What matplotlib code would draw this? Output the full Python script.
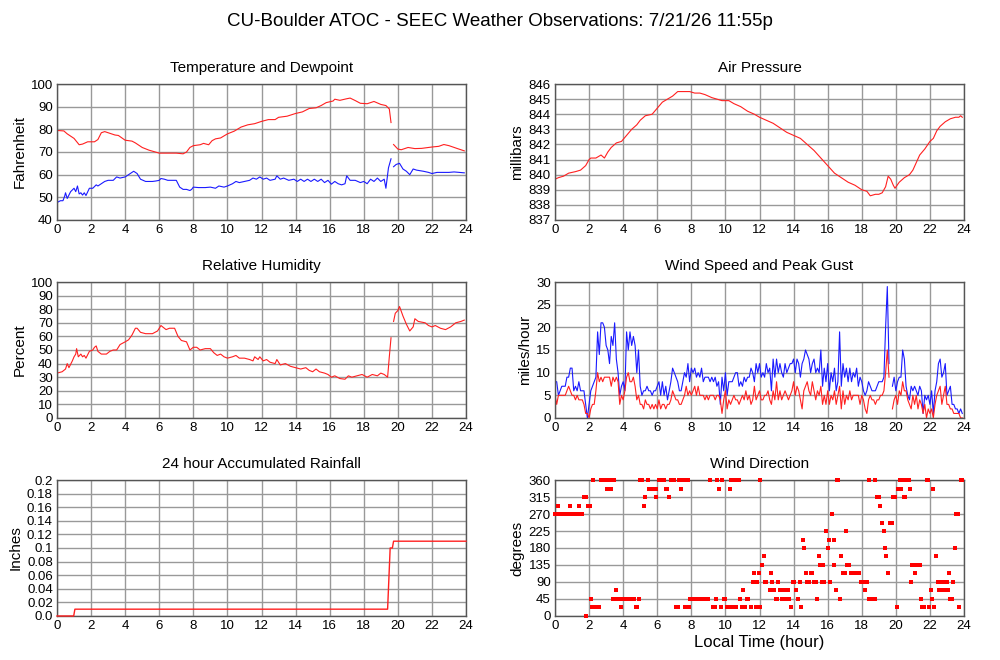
import numpy as np
import matplotlib
matplotlib.use("Agg")
import matplotlib.pyplot as plt

plt.rcParams['font.family'] = ['Liberation Sans', 'DejaVu Sans']

nan = np.nan

# temperature / dewpoint (F)
temp_t = [0, 0.4, 0.6, 1.0, 1.3, 1.5, 1.8, 2.2, 2.4, 2.6, 2.8, 3.0, 3.4, 3.6, 4.0, 4.4, 4.6, 5.0, 5.4,
          6.0, 6.5, 7.0, 7.4, 7.6, 7.8, 8.0, 8.4, 8.6, 8.9, 9.1, 9.3, 9.6, 10.0, 10.4, 10.8, 11.2, 11.6,
          12.0, 12.4, 12.8, 13.0, 13.5, 14.0, 14.4, 14.8, 15.2, 15.5, 15.8, 16.2, 16.3, 16.6, 17.0, 17.2,
          17.5, 17.8, 18.2, 18.6, 19.0, 19.3, 19.5, 19.6, 19.68, 19.75, 20.0, 20.2, 20.6, 21.0, 21.4,
          22.0, 22.4, 22.7, 23.0, 23.5, 23.9]
temp_f = [79.5, 79.3, 78, 76, 73.2, 73.5, 74.5, 74.5, 75.5, 78.5, 79, 78.5, 77.5, 77.3, 75.2, 74.8, 74,
          72, 70.8, 69.5, 69.5, 69.5, 69.2, 70, 72, 72.8, 73.2, 73.8, 73.2, 75, 75.8, 76.2, 78, 79.2, 81,
          82, 82.5, 83.5, 84.3, 84.3, 85.3, 85.8, 87, 87.7, 89.2, 89.5, 90.5, 91.8, 92.5, 93.3, 92.8,
          93.5, 93.8, 92.7, 91.5, 91.3, 92.3, 91, 90.5, 89, 83, nan, 73.3, 71.3, 71, 72, 71.5, 71.6,
          72.2, 72.5, 73.3, 72.8, 71.5, 70.5]

dew_t = [0, 0.2, 0.35, 0.45, 0.5, 0.6, 0.7, 0.8, 1.0, 1.1, 1.2, 1.3, 1.4, 1.5, 1.6, 1.7, 1.9, 2.1, 2.3,
         2.4, 2.6, 2.8, 3.0, 3.3, 3.5, 3.7, 4.0, 4.3, 4.5, 4.7, 4.9, 5.2, 5.6, 5.8, 6.0, 6.1, 6.3, 6.5,
         6.8, 7.0, 7.2, 7.4, 7.6, 7.8, 7.9, 8.0, 8.3, 8.7, 9.0, 9.3, 9.5, 9.8, 10.0, 10.3, 10.5, 10.7,
         11.0, 11.3, 11.5, 11.7, 11.9, 12.1, 12.3, 12.5, 12.8, 12.9, 13.1, 13.3, 13.6, 13.9, 14.1, 14.3,
         14.5, 14.7, 14.9, 15.1, 15.3, 15.5, 15.7, 15.9, 16.1, 16.3, 16.5, 16.7, 16.9, 17.0, 17.2, 17.5,
         17.8, 18.0, 18.2, 18.4, 18.6, 18.8, 19.0, 19.2, 19.3, 19.45, 19.6, 19.68, 19.75, 19.9, 20.1,
         20.3, 20.5, 20.7, 20.9, 21.1, 21.5, 21.8, 22.0, 22.3, 22.6, 23.0, 23.3, 23.6, 23.9]
dew_f = [47.7, 48.5, 48.5, 50.5, 52, 49.5, 51, 52.5, 54, 52.5, 55, 51.5, 52, 51, 52, 50.8, 54, 54, 55.5,
         55, 56, 57, 57.5, 57.5, 59, 58.5, 59, 60.5, 61.5, 60.5, 58, 57, 57, 57.2, 57.5, 58.3, 58, 57.5,
         57.5, 57.5, 54.5, 53.5, 53.5, 53, 53.5, 54.5, 54.3, 54.3, 54.5, 54, 55, 54.5, 55, 56, 57, 56.5,
         57, 57.5, 58.5, 58, 59, 58, 58.5, 57.5, 58, 59.5, 58, 58.5, 57.5, 58, 57, 58,
         57, 58, 57, 58, 57, 58, 56.5, 57.5, 55.8, 57, 56, 55.5, 56, 59.5, 57.5, 57.5,
         56.5, 57, 56, 58, 57, 58.5, 57, 58, 54, 63, 67, nan, 63.5, 64.5, 65,
         62.5, 61.5, 60, 62.5, 62, 61.5, 61, 60.5, 61, 61, 61, 61.2, 61, 60.8]

# air pressure (mb)
pres_t = [0, 0.2, 0.5, 0.8, 1.2, 1.5, 1.8, 2.0, 2.1, 2.4, 2.7, 2.9, 3.1, 3.3, 3.6, 3.9, 4.2, 4.5, 4.8,
          5.0, 5.3, 5.7, 6.0, 6.3, 6.6, 6.9, 7.2, 7.5, 7.9, 8.2, 8.5, 8.8, 9.2, 9.5, 9.8, 10.2, 10.5,
          10.9, 11.3, 11.7, 12.0, 12.4, 12.8, 13.2, 13.6, 14.0, 14.4, 14.8, 15.2, 15.6, 16.0, 16.4,
          16.8, 17.2, 17.6, 18.0, 18.3, 18.5, 18.8, 19.0, 19.2, 19.4, 19.55, 19.7, 19.85, 19.95, 20.2,
          20.5, 20.8, 21.0, 21.2, 21.4, 21.7, 22.0, 22.2, 22.4, 22.6, 22.9, 23.2, 23.5, 23.7, 23.8, 23.9]
pres_mb = [839.7, 839.8, 839.9, 840.1, 840.2, 840.3, 840.6, 841.0, 841.1, 841.1, 841.3, 841.1, 841.5,
           841.8, 842.1, 842.2, 842.6, 843.0, 843.3, 843.6, 843.9, 844.0, 844.4, 844.8, 845.0, 845.2,
           845.5, 845.5, 845.5, 845.4, 845.4, 845.3, 845.1, 845.0, 844.9, 844.9, 844.7, 844.5, 844.2,
           844.0, 843.8, 843.6, 843.4, 843.1, 842.8, 842.6, 842.4, 842.0, 841.6, 841.1, 840.6, 840.1,
           839.8, 839.5, 839.3, 839.0, 838.9, 838.6, 838.7, 838.7, 838.8, 839.2, 839.9, 839.7, 839.3,
           839.1, 839.5, 839.8, 840.0, 840.3, 840.8, 841.3, 841.7, 842.2, 842.4, 842.9, 843.2, 843.5,
           843.7, 843.8, 843.8, 843.9, 843.8]

# relative humidity (%)
rh_t = [0, 0.3, 0.5, 0.6, 0.7, 0.9, 1.0, 1.1, 1.15, 1.25, 1.4, 1.5, 1.6, 1.7, 1.9, 2.1, 2.2, 2.3, 2.4,
        2.6, 2.9, 3.1, 3.3, 3.5, 3.7, 4.0, 4.2, 4.4, 4.6, 4.7, 4.9, 5.2, 5.6, 5.9, 6.1, 6.3, 6.4, 6.6,
        6.9, 7.1, 7.3, 7.6, 7.8, 8.0, 8.2, 8.4, 8.7, 9.0, 9.2, 9.4, 9.6, 9.8, 10.0, 10.3, 10.5, 10.7,
        11.0, 11.3, 11.5, 11.6, 11.8, 11.9, 12.1, 12.3, 12.5, 12.8, 12.9, 13.1, 13.4, 13.7, 14.0, 14.3,
        14.6, 14.8, 15.0, 15.2, 15.4, 15.7, 15.9, 16.1, 16.3, 16.6, 16.9, 17.1, 17.3, 17.6, 17.9, 18.2,
        18.5, 18.8, 19.0, 19.2, 19.4, 19.5, 19.6, 19.68, 19.75, 19.85, 20.0, 20.1, 20.3, 20.5, 20.7,
        20.9, 21.0, 21.2, 21.6, 21.8, 22.0, 22.2, 22.5, 22.8, 23.1, 23.4, 23.7, 23.9]
rh_pct = [33, 34, 36, 40, 37, 42, 45, 47, 51, 45, 47, 45, 46, 44, 49, 50, 52, 53, 49,
          47, 47, 49, 50, 50, 54, 56, 57.5, 61, 66, 66, 63, 62, 62, 64, 68, 66, 65, 66,
          66, 60, 57, 56, 50, 52, 52, 50, 51, 51, 48, 46, 47, 45, 44, 45, 46, 44,
          44, 43, 42, 45, 43, 45, 42, 43, 41, 40, 43, 39, 40, 38, 37, 36,
          37, 35, 34, 36, 34, 33, 32, 30, 31, 29, 28.5, 31, 30, 31, 32, 30,
          32, 31, 33, 32, 30, 45, 59, nan, 71, 77, 79, 82, 75, 69, 64,
          67, 73, 71, 70, 68, 67, 68, 66, 65, 67, 70, 71, 72]

# 24 hour accumulated rainfall (in)
rain_t = [0, 0.98, 1.05, 19.4, 19.55, 19.68, 19.75, 24]
rain_in = [0, 0, 0.01, 0.01, 0.1, 0.1, 0.11, 0.11]

# wind speed and peak gust (mph), every 0.1 h
wind_gust = [8, 8, 5, 6, 7, 7, 7, 9, 9, 11, 11, 6, 7, 6, 8, 6, 6, 6, 3, 0,
             3, 6, 7, 8, 9, 19, 14, 21, 21, 20, 16, 15, 12, 18, 16, 21, 13, 10, 5, 7,
             8, 6, 19, 15, 19, 16, 18, 16, 10, 15, 7, 5, 6, 6, 7, 6, 6, 5, 6, 6,
             7, 8, 5, 8, 5, 7, 4, 6, 8, 11, 10, 9, 8, 6, 6, 8, 10, 9, 12, 8,
             11, 10, 11, 9, 10, 9, 11, 8, 9, 9, 9, 8, 9, 8, 9, 7, 8, 3, 9, 6,
             10, 5, 8, 8, 8, 9, 10, 10, 7, 8, 7, 9, 8, 9, 9, 11, 10, 8, 12, 10,
             12, 9, 10, 9, 12, 10, 11, 6, 13, 9, 13, 10, 12, 10, 9, 12, 10, 11, 12, 12,
             13, 10, 13, 12, 9, 12, 13, 15, 14, 13, 10, 12, 13, 10, 11, 10, 15, 7, 11, 8,
             12, 6, 10, 8, 11, 6, 8, 19, 7, 12, 9, 11, 8, 11, 8, 10, 9, 11, 7, 9,
             8, 6, 5, 6, 8, 7, 6, 6, 6, 7, 8, 8, 8, 9, 20, 29, 12, nan, 7, 9,
             6, 8, 9, 9, 15, 13, 7, 5, 4, 7, 6, 7, 6, 5, 7, 6, 1, 5, 4, 5,
             3, 6, 1, 6, 8, 12, 13, 9, 10, 12, 5, 6, 7, 3, 3, 2, 2, 1, 2, 1]
wind_speed = [5, 3, 5, 5, 5, 5, 5, 6, 7, 6, 5, 5, 4, 5, 4, 4, 4, 3, 1, 1,
              0, 2, 3, 3, 6, 10, 8, 9, 8, 9, 9, 9, 9, 7, 9, 8, 9, 8, 3, 5,
              4, 6, 9, 10, 8, 8, 9, 7, 4, 5, 3, 3, 2, 4, 3, 3, 2, 3, 2, 3,
              2, 4, 2, 3, 3, 2, 3, 3, 4, 6, 5, 4, 4, 3, 3, 4, 5, 7, 5, 6,
              5, 6, 7, 5, 7, 5, 5, 5, 4, 5, 4, 5, 5, 5, 4, 5, 5, 4, 1, 4,
              6, 2, 4, 3, 4, 5, 4, 4, 3, 4, 5, 4, 6, 4, 5, 3, 4, 7, 4, 5,
              6, 4, 4, 5, 5, 6, 4, 3, 6, 4, 8, 4, 6, 4, 5, 6, 5, 4, 5, 6,
              8, 5, 7, 6, 4, 2, 6, 7, 8, 6, 5, 8, 6, 4, 6, 5, 7, 3, 5, 3,
              6, 3, 5, 4, 6, 3, 5, 7, 2, 6, 3, 5, 4, 6, 4, 5, 5, 5, 5, 3,
              5, 4, 2, 1, 4, 5, 4, 4, 3, 4, 4, 5, 5, 6, 10, 15, 9, nan, 2, 4,
              5, 3, 6, 5, 8, 6, 6, 4, 3, 2, 5, 3, 5, 2, 4, 3, 1, 3, 0, 2,
              1, 2, 0, 3, 5, 6, 7, 3, 5, 7, 3, 3, 2, 2, 1, 1, 1, 1, 0, 0]
wind_t = np.arange(len(wind_speed)) / 10.0

# wind direction (degrees)
dir_t = [0.0, 0.05, 0.1, 0.2, 0.3, 0.4, 0.5, 0.6, 0.7, 0.8, 0.9, 0.9, 1.0, 1.1, 1.2, 1.3, 1.4, 1.5, 1.6,
         1.7, 1.8, 1.84, 1.95, 2.05, 2.1, 2.2, 2.3, 2.4, 2.5, 2.6, 2.25, 2.7, 2.8, 2.9, 3.0,
         3.05, 3.15, 3.2, 3.3, 3.45, 3.3, 3.4, 3.5, 3.6, 3.7, 3.85, 3.95, 4.05, 4.15, 4.25, 4.35,
         4.45, 4.55, 4.65, 4.75, 4.8, 4.95, 5.0, 5.1, 5.2, 5.3, 5.45, 5.5, 5.6, 5.7, 5.8, 5.9,
         5.95, 6.1, 6.2, 6.3, 6.4, 6.5, 6.6, 6.7, 6.8, 6.9, 7.0, 7.1, 7.2, 7.3, 7.4, 7.5, 7.6,
         7.65, 7.75, 7.85, 7.8, 7.95, 8.05, 8.15, 8.25, 8.35, 8.45, 8.55, 8.65, 8.75, 8.85, 8.95,
         9.1, 9.3, 9.4, 9.45, 9.5, 9.6, 9.75, 9.8, 9.9, 10.0, 10.1, 10.2, 10.25, 10.35, 10.4,
         10.5, 10.6, 10.65, 10.85, 10.8, 10.95, 11.05, 11.15, 11.25, 11.35, 11.5, 11.6, 11.7, 11.8,
         11.85, 11.95, 12.0, 12.05, 12.15, 12.25, 12.3, 12.4, 12.6, 12.65, 12.75, 12.85, 12.95, 13.05,
         13.1, 13.2, 13.3, 13.45, 13.5, 13.65, 13.75, 13.85, 13.95, 14.05, 14.15, 14.25, 14.35, 14.45,
         14.55, 14.6, 14.7, 14.8, 14.9, 15.0, 15.1, 15.2, 15.3, 15.4, 15.5, 15.55, 15.65, 15.75,
         15.8, 15.9, 16.0, 16.05, 16.15, 16.25, 16.35, 16.4, 16.5, 16.55, 16.62, 16.7, 16.8, 16.9,
         17.0, 17.05, 17.15, 17.25, 17.35, 17.45, 17.55, 17.65, 17.75, 17.85, 17.95, 18.05, 18.15,
         18.2, 18.3, 18.4, 18.45, 18.55, 18.65, 18.75, 18.8, 18.9, 19.0, 19.1, 19.2, 19.3, 19.35,
         19.45, 19.55, 19.65, 19.75, 19.85, 19.95, 20.05, 20.1, 20.2, 20.25, 20.3, 20.4, 20.45,
         20.55, 20.65, 20.75, 20.85, 20.9, 20.95, 21.05, 21.1, 21.2, 21.3, 21.4, 21.5, 21.55, 21.65,
         21.8, 21.9, 21.95, 22.05, 22.1, 22.2, 22.25, 22.35, 22.45, 22.5, 22.55, 22.6, 22.7, 22.75,
         22.85, 22.95, 23.0, 23.05, 23.1, 23.2, 23.3, 23.35, 23.45, 23.55, 23.65, 23.7, 23.8, 23.9]
dir_deg = [270, 270, 270, 292.5, 270, 270, 270, 270, 270, 270, 270, 292.5, 270, 270, 270, 270, 292.5, 270, 270,
           315, 315, 0, 292.5, 292.5, 45, 22.5, 22.5, 22.5, 22.5, 22.5, 360, 360, 360, 360, 360,
           337.5, 337.5, 360, 360, 360, 337.5, 45, 45, 67.5, 45, 22.5, 45, 45, 45, 45, 45,
           45, 45, 45, 22.5, 22.5, 45, 360, 360, 292.5, 315, 360, 337.5, 337.5, 337.5, 337.5, 337.5,
           315, 360, 360, 360, 360, 337.5, 337.5, 315, 360, 360, 360, 22.5, 22.5, 360, 337.5, 360, 360,
           22.5, 22.5, 22.5, 360, 45, 45, 45, 45, 45, 45, 45, 45, 45, 45, 45,
           360, 22.5, 22.5, 45, 360, 337.5, 22.5, 360, 45, 45, 22.5, 22.5, 337.5, 360, 22.5,
           360, 360, 22.5, 45, 360, 22.5, 67.5, 22.5, 45, 45, 22.5, 90, 112.5, 22.5,
           90, 112.5, 360, 22.5, 135, 157.5, 90, 90, 67.5, 112.5, 90, 67.5, 45, 45,
           90, 67.5, 45, 67.5, 45, 67.5, 45, 22.5, 90, 90, 67.5, 45, 90, 22.5,
           202.5, 180, 112.5, 90, 90, 112.5, 112.5, 90, 90, 45, 157.5, 135, 90, 135,
           90, 225, 180, 202.5, 90, 270, 202.5, 135, 67.5, 360, 360, 45, 157.5, 112.5,
           112.5, 225, 135, 135, 112.5, 112.5, 112.5, 112.5, 112.5, 112.5, 90, 90, 90,
           67.5, 90, 360, 45, 45, 45, 45, 360, 315, 315, 292.5, 247.5, 225, 180,
           157.5, 112.5, 247.5, 247.5, 315, 315, 22.5, 337.5, 337.5, 360, 337.5, 360, 315,
           315, 360, 360, 337.5, 90, 135, 135, 112.5, 135, 135, 135, 45, 22.5, 22.5,
           360, 360, 22.5, 67.5, 45, 337.5, 22.5, 157.5, 90, 90, 67.5, 90, 90, 67.5,
           67.5, 90, 90, 67.5, 112.5, 45, 45, 90, 180, 270, 270, 22.5, 360, 360]

RED = '#ff2020'
BLUE = '#1a1aff'

fig = plt.figure(figsize=(10, 6.6), dpi=100)
fig.text(0.5, 0.968, "CU-Boulder ATOC - SEEC Weather Observations: 7/21/26 11:55p",
         ha='center', va='center', fontsize=13.5)

left_x, right_x, w, h = 0.057, 0.555, 0.409, 0.206
rows = [0.6667, 0.3667, 0.0667]


def make_ax(x, y, title, ylabel, ylim, yticks, yticklabels=None):
    ax = fig.add_axes([x, y, w, h])
    ax.set_xlim(0, 24)
    ax.set_ylim(*ylim)
    ax.set_xticks(range(0, 25, 2))
    ax.set_yticks(yticks)
    if yticklabels is not None:
        ax.set_yticklabels(yticklabels)
    ax.grid(True, color='#999999', linewidth=1.0)
    ax.set_axisbelow(True)
    ax.tick_params(length=0, labelsize=9.5, pad=3)
    for s in ax.spines.values():
        s.set_color('#555555')
        s.set_linewidth(1.0)
    ax.set_title(title, fontsize=11, pad=9)
    ax.set_ylabel(ylabel, fontsize=11, labelpad=3)
    return ax


ax = make_ax(left_x, rows[0], "Temperature and Dewpoint", "Fahrenheit", (40, 100), range(40, 101, 10))
ax.plot(temp_t, temp_f, color=RED, lw=0.8)
ax.plot(dew_t, dew_f, color=BLUE, lw=0.8)

ax = make_ax(right_x, rows[0], "Air Pressure", "millibars", (837, 846), range(837, 847))
ax.plot(pres_t, pres_mb, color=RED, lw=0.8)

ax = make_ax(left_x, rows[1], "Relative Humidity", "Percent", (0, 100), range(0, 101, 10))
ax.plot(rh_t, rh_pct, color=RED, lw=0.8)

ax = make_ax(right_x, rows[1], "Wind Speed and Peak Gust", "miles/hour", (0, 30), range(0, 31, 5))
ax.plot(wind_t, wind_gust, color=BLUE, lw=0.8)
ax.plot(wind_t, wind_speed, color=RED, lw=0.8)

rain_ticks = [i * 0.02 for i in range(11)]
rain_labels = ['0.0', '0.02', '0.04', '0.06', '0.08', '0.1', '0.12', '0.14', '0.16', '0.18', '0.2']
ax = make_ax(left_x, rows[2], "24 hour Accumulated Rainfall", "Inches", (0, 0.2), rain_ticks, rain_labels)
ax.plot(rain_t, rain_in, color=RED, lw=1.0, clip_on=False, zorder=5)

ax = make_ax(right_x, rows[2], "Wind Direction", "degrees", (0, 360), range(0, 361, 45))
ax.plot(dir_t, dir_deg, 's', color='#ff0000', ms=2.2, mew=0, clip_on=False, zorder=5)
ax.set_xlabel("Local Time (hour)", fontsize=12, labelpad=2)

fig.savefig("out.png", dpi=100)
